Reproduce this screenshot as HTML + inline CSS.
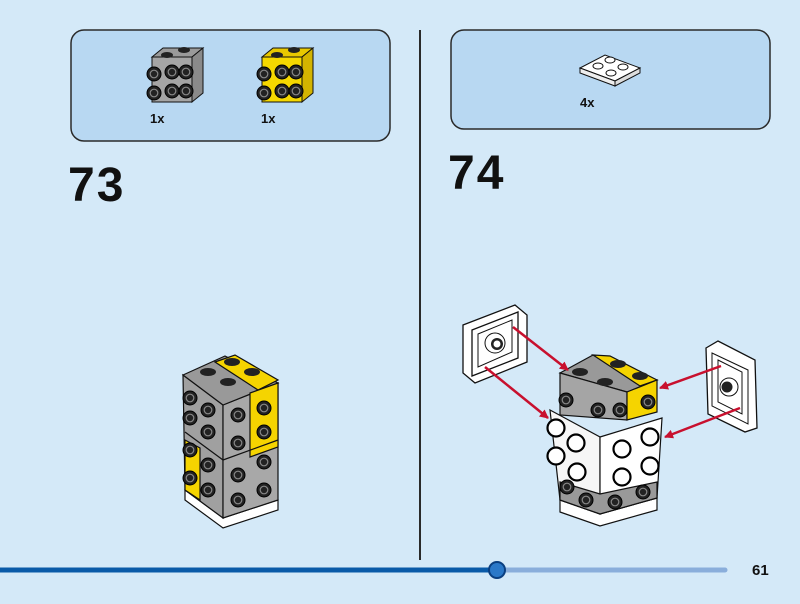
<!DOCTYPE html>
<html><head><meta charset="utf-8"><style>
html,body{margin:0;padding:0;background:#d4e9f8;}
body{width:800px;height:604px;overflow:hidden;position:relative;font-family:"Liberation Sans",sans-serif;}
</style></head><body>
<svg width="800" height="604" viewBox="0 0 800 604" xmlns="http://www.w3.org/2000/svg" style="position:absolute;left:0;top:0">
<defs>
<g id="stud"><circle r="7" fill="#222" stroke="#000" stroke-width="1"/><circle r="3.8" fill="none" stroke="#888" stroke-width="1.2"/></g>
<g id="wstud"><circle r="8.5" fill="#fff" stroke="#000" stroke-width="2.2"/></g>
<marker id="ah" markerWidth="9" markerHeight="9" refX="8" refY="4.5" orient="auto" markerUnits="userSpaceOnUse"><path d="M0,0 L9,4.5 L0,9 z" fill="#c8102e"/></marker>
</defs>
<rect x="71" y="30" width="319" height="111" rx="13" fill="#b8d8f2" stroke="#2a2a2a" stroke-width="1.5"/>
<rect x="451" y="30" width="319" height="99" rx="13" fill="#b8d8f2" stroke="#2a2a2a" stroke-width="1.5"/>
<line x1="420" y1="30" x2="420" y2="560" stroke="#2a2a2a" stroke-width="2"/>
<g stroke="#111" stroke-width="1">
<polygon points="152,57 163,48 203,48 192,57" fill="#9a9a9a"/>
<polygon points="152,57 192,57 192,102 152,102" fill="#a5a5a5"/>
<polygon points="192,57 203,48 203,93 192,102" fill="#8a8a8a"/>
</g>
<ellipse cx="167" cy="55" rx="6" ry="3" fill="#222"/><ellipse cx="184" cy="50" rx="6" ry="3" fill="#222"/>
<use href="#stud" x="172" y="72"/><use href="#stud" x="186" y="72"/><use href="#stud" x="172" y="91"/><use href="#stud" x="186" y="91"/>
<use href="#stud" x="154" y="74"/><use href="#stud" x="154" y="93"/>
<g stroke="#111" stroke-width="1">
<polygon points="262,57 273,48 313,48 302,57" fill="#e8c800"/>
<polygon points="262,57 302,57 302,102 262,102" fill="#f5d800"/>
<polygon points="302,57 313,48 313,93 302,102" fill="#d4b400"/>
</g>
<ellipse cx="277" cy="55" rx="6" ry="3" fill="#222"/><ellipse cx="294" cy="50" rx="6" ry="3" fill="#222"/>
<use href="#stud" x="282" y="72"/><use href="#stud" x="296" y="72"/><use href="#stud" x="282" y="91"/><use href="#stud" x="296" y="91"/>
<use href="#stud" x="264" y="74"/><use href="#stud" x="264" y="93"/>
<text x="150" y="123" font-size="13" font-weight="bold" fill="#111">1x</text>
<text x="261" y="123" font-size="13" font-weight="bold" fill="#111">1x</text>
<polygon points="580,68 605,55 640,68 615,81" fill="#fff" stroke="#111"/>
<polygon points="580,68 615,81 615,86 580,73" fill="#eee" stroke="#111"/>
<polygon points="615,81 640,68 640,73 615,86" fill="#ddd" stroke="#111"/>
<ellipse cx="598" cy="66" rx="5" ry="3" fill="#fff" stroke="#111"/><ellipse cx="610" cy="60" rx="5" ry="3" fill="#fff" stroke="#111"/><ellipse cx="611" cy="73" rx="5" ry="3" fill="#fff" stroke="#111"/><ellipse cx="623" cy="67" rx="5" ry="3" fill="#fff" stroke="#111"/>
<text x="580" y="107" font-size="13" font-weight="bold" fill="#111">4x</text>
<text x="68" y="201" font-size="48" font-weight="bold" fill="#111" letter-spacing="2">73</text>
<text x="448" y="189" font-size="48" font-weight="bold" fill="#111" letter-spacing="2">74</text>
<!-- left model -->
<g stroke="#111" stroke-width="1.2">
<polygon points="185,500 223,528 278,510 278,500 223,518 185,490" fill="#fff"/>
<polygon points="183,375 223,405 223,518 185,490" fill="#a0a0a0"/>
<polygon points="223,405 278,383 278,500 223,518" fill="#a8a8a8"/>
<polygon points="183,375 225,356 278,383 223,405" fill="#999"/>
<polygon points="215,362 235,355 278,380 258,390" fill="#f5d400"/>
<polygon points="250,393 278,383 278,447 250,457" fill="#f5d400"/>
<polygon points="185,440 200,448 200,500 185,490" fill="#f5d400"/>
<line x1="223" y1="460" x2="278" y2="440"/><line x1="185" y1="432" x2="223" y2="460"/>
</g>
<ellipse cx="208" cy="372" rx="8" ry="4" fill="#222"/><ellipse cx="228" cy="382" rx="8" ry="4" fill="#222"/>
<ellipse cx="232" cy="362" rx="8" ry="4" fill="#222"/><ellipse cx="252" cy="372" rx="8" ry="4" fill="#222"/>
<use href="#stud" x="238" y="415"/><use href="#stud" x="238" y="443"/><use href="#stud" x="238" y="475"/><use href="#stud" x="238" y="500"/>
<use href="#stud" x="264" y="408"/><use href="#stud" x="264" y="432"/><use href="#stud" x="264" y="462"/><use href="#stud" x="264" y="490"/>
<use href="#stud" x="190" y="398"/><use href="#stud" x="190" y="418"/><use href="#stud" x="190" y="450"/><use href="#stud" x="190" y="478"/>
<use href="#stud" x="208" y="410"/><use href="#stud" x="208" y="432"/><use href="#stud" x="208" y="465"/><use href="#stud" x="208" y="490"/>
<!-- right model -->
<g stroke="#111" stroke-width="1.2">
<polygon points="560,373 593,355 657,380 627,392" fill="#999"/>
<polygon points="593,355 610,356 657,380 640,386" fill="#f5d400"/>
<polygon points="560,373 627,392 627,420 560,415" fill="#a5a5a5"/>
<polygon points="627,392 657,380 657,412 627,420" fill="#f5d400"/>
<polygon points="560,512 600,526 657,510 657,498 600,514 560,500" fill="#fff"/>
<polygon points="550,410 600,437 600,514 560,500" fill="#f6f6f6"/>
<polygon points="600,437 662,418 657,498 600,514" fill="#fff"/>
<polygon points="560,482 600,494 657,482 657,498 600,514 560,500" fill="#999"/>
</g>
<ellipse cx="580" cy="372" rx="8" ry="4" fill="#222"/><ellipse cx="605" cy="382" rx="8" ry="4" fill="#222"/>
<ellipse cx="618" cy="364" rx="8" ry="4" fill="#222"/><ellipse cx="640" cy="376" rx="8" ry="4" fill="#222"/>
<use href="#stud" x="566" y="400"/><use href="#stud" x="598" y="410"/><use href="#stud" x="620" y="410"/><use href="#stud" x="648" y="402"/>
<use href="#wstud" x="556" y="428"/><use href="#wstud" x="576" y="443"/><use href="#wstud" x="556" y="456"/><use href="#wstud" x="577" y="472"/>
<use href="#wstud" x="622" y="449"/><use href="#wstud" x="650" y="437"/><use href="#wstud" x="622" y="477"/><use href="#wstud" x="650" y="466"/>
<use href="#stud" x="567" y="487"/><use href="#stud" x="586" y="500"/><use href="#stud" x="615" y="502"/><use href="#stud" x="643" y="492"/>
<polygon points="463,325 515,305 527,315 527,362 475,383 463,373" fill="#fff" stroke="#111" stroke-width="1.3"/>
<polygon points="472,330 518,312 518,358 472,376" fill="#fff" stroke="#111" stroke-width="1.3"/>
<polygon points="478,334 512,320 512,352 478,367" fill="#fff" stroke="#111"/>
<circle cx="495" cy="343" r="10" fill="#fff" stroke="#111"/><circle cx="497" cy="344" r="6" fill="#222"/><circle cx="497" cy="344" r="3.5" fill="#fff"/>
<polygon points="706,348 718,341 755,360 757,428 745,432 708,414" fill="#fff" stroke="#111" stroke-width="1.3"/>
<polygon points="712,353 748,370 748,424 712,406" fill="#fff" stroke="#111"/>
<polygon points="718,360 742,372 742,414 718,402" fill="#fff" stroke="#111"/>
<circle cx="729" cy="387" r="9" fill="#fff" stroke="#111"/><circle cx="727" cy="387" r="5.5" fill="#222"/>
<g stroke="#c8102e" stroke-width="2.5" fill="none" marker-end="url(#ah)">
<line x1="513" y1="327" x2="568" y2="370"/>
<line x1="485" y1="367" x2="548" y2="418"/>
<line x1="721" y1="366" x2="660" y2="388"/>
<line x1="740" y1="408" x2="665" y2="437"/>
</g>
<line x1="0" y1="570" x2="497" y2="570" stroke="#0a5aa8" stroke-width="5"/>
<line x1="497" y1="570" x2="725" y2="570" stroke="#8aaedb" stroke-width="5" stroke-linecap="round"/>
<circle cx="497" cy="570" r="8" fill="#2a78c8" stroke="#0a3f80" stroke-width="2"/>
<text x="752" y="575" font-size="15" font-weight="bold" fill="#111">61</text>
</svg>
</body></html>
